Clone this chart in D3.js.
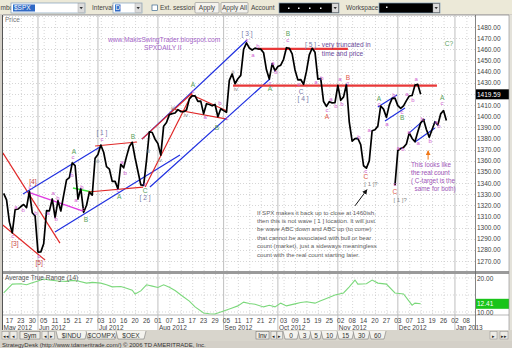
<!DOCTYPE html>
<html>
<head>
<meta charset="utf-8">
<script src="https://cdn.jsdelivr.net/npm/d3@7"></script>
<style>
  html, body { margin: 0; padding: 0; background: #d4d0c8; }
  svg text { font-family: "Liberation Sans", Arial, sans-serif; }
</style>
</head>
<body>
<svg id="chart" width="512" height="348"></svg>
<script>
// ---------------- data ----------------
const marketHolidays = ["2012-05-28", "2012-07-04", "2012-09-03", "2012-10-29", "2012-10-30",
  "2012-11-22", "2012-12-25", "2013-01-01"];
const calendarStart = "2012-05-15";
const calendarEnd = "2013-01-15";

// S&P 500 daily closes, one per trading day from 2012-05-15
const closes = [
  1330.66, 1324.80, 1304.86, 1295.22, 1315.99, 1316.63, 1318.86, 1320.68, 1317.82, 1332.42, 1313.32, 1310.33,
  1278.04, 1278.18, 1285.50, 1315.13, 1314.99, 1325.66, 1308.93, 1324.18, 1314.88, 1329.10, 1342.84, 1344.78,
  1357.98, 1355.69, 1325.51, 1335.02, 1313.72, 1319.99, 1331.85, 1329.04, 1362.16,
  1365.51, 1374.02, 1367.58, 1354.68, 1352.46, 1341.47, 1341.45, 1334.76, 1356.78, 1353.64, 1363.67, 1372.78,
  1376.51, 1362.66, 1350.52, 1338.31, 1337.89, 1360.02, 1385.97, 1385.30, 1379.32,
  1375.32, 1365.00, 1390.99, 1394.23, 1401.35, 1402.22, 1402.80, 1405.87, 1404.11, 1403.93, 1405.53, 1415.51,
  1418.16, 1418.13, 1413.17, 1413.49, 1402.08, 1411.13, 1410.44, 1409.30, 1410.49, 1399.48, 1406.58,
  1404.94, 1403.44, 1432.12, 1437.92, 1429.08, 1433.56, 1436.56, 1459.99, 1465.77, 1461.19, 1459.32, 1461.05,
  1460.26, 1460.15, 1456.89, 1441.59, 1433.32, 1447.15, 1440.67,
  1444.49, 1445.75, 1450.99, 1461.40, 1460.93, 1455.88, 1441.48, 1432.56, 1432.84, 1428.59, 1440.13, 1454.92,
  1460.91, 1457.34, 1433.19, 1433.82, 1413.11, 1408.75, 1412.97, 1411.94, 1412.16,
  1427.59, 1414.20, 1417.26, 1428.39, 1394.53, 1377.51, 1379.85, 1380.03, 1374.53, 1355.49, 1353.33, 1359.88,
  1386.89, 1387.81, 1391.03, 1409.15, 1406.29, 1398.94, 1409.93, 1415.95, 1416.18,
  1409.46, 1407.05, 1409.28, 1413.94, 1418.07, 1418.55, 1427.84, 1428.48, 1419.59
];
const lastPrice = 1419.59;

// hand-drawn alternative path, one value per trading day from 2012-11-30
const projectionStart = "2012-11-30";
const projection = [1338, 1369, 1371, 1372, 1375, 1385, 1380, 1377, 1386, 1394, 1397, 1388, 1381, 1388,
  1395, 1392, 1402, 1405, 1396];

// Average True Range (14)
const atrDates = ["2012-05-15", "2012-05-18", "2012-05-23", "2012-05-25", "2012-05-30", "2012-06-01", "2012-06-05",
  "2012-06-07", "2012-06-12", "2012-06-15", "2012-06-19", "2012-06-21", "2012-06-26", "2012-06-28", "2012-07-03",
  "2012-07-06", "2012-07-10", "2012-07-13", "2012-07-17", "2012-07-19", "2012-07-20", "2012-07-24", "2012-07-26",
  "2012-07-30", "2012-08-01", "2012-08-03", "2012-08-07", "2012-08-09", "2012-08-14", "2012-08-16", "2012-08-20",
  "2012-08-23", "2012-08-27", "2012-08-29", "2012-09-04", "2012-09-07", "2012-09-11", "2012-09-13", "2012-09-17",
  "2012-09-19", "2012-09-24", "2012-09-26", "2012-09-28", "2012-10-02", "2012-10-04", "2012-10-09", "2012-10-11",
  "2012-10-15", "2012-10-18", "2012-10-22", "2012-10-24", "2012-10-31", "2012-11-05", "2012-11-07", "2012-11-09",
  "2012-11-12", "2012-11-15", "2012-11-19", "2012-11-21", "2012-11-27", "2012-11-30", "2012-12-05", "2012-12-10",
  "2012-12-11", "2012-12-13"];
const atrValues = [15.6, 18.2, 18.3, 18.0, 18.6, 19.1, 19.7, 19.4, 19.1, 19.0, 19.3, 19.1, 18.5, 18.7, 18.5,
  18.0, 17.4, 17.5, 17.0, 16.4, 15.3, 16.2, 18.0, 17.6, 17.2, 18.0, 17.3, 16.3, 14.4, 13.2, 11.5,
  9.7, 9.5, 9.4, 10.3, 11.2, 11.8, 12.9, 12.5, 12.3, 11.5, 12.0, 11.5, 12.6, 11.8, 12.4, 12.8,
  13.0, 12.6, 13.3, 14.0, 15.0, 15.6, 17.4, 19.4, 18.2, 18.3, 19.4, 18.5, 18.2, 15.6, 15.3, 12.0,
  12.6, 12.41];
const atrLast = 12.41;

const priceTicks = d3.range(1270, 1481, 10);
const atrTicks = [10, 20];

// trend lines: [day, price, day, price, kind]
const trendLines = [
  [-0.3, 1367, 19.7, 1286, "red"],
  [-0.3, 1302.3, 14.5, 1270.8, "red"],
  [6.75, 1330.1, 33.7, 1372.3, "blue"],
  [17.95, 1296, 61.7, 1365.1, "blue"],
  [8.5, 1331.9, 27.8, 1314.8, "magenta"],
  [24.25, 1335.5, 30.9, 1331.9, "green"],
  [32.0, 1373.2, 46.7, 1376.8, "red"],
  [29.5, 1331.9, 48.8, 1336.3, "red"],
  [48.4, 1379.4, 85.2, 1468.3, "blue"],
  [48.4, 1379.4, 65.9, 1420.5, "red"],
  [49.5, 1336.4, 65.9, 1419.9, "red"],
  [65.9, 1419.0, 78.2, 1404.6, "red"],
  [58.9, 1406.4, 78.2, 1397.4, "red"],
  [51.2, 1336.4, 93.2, 1433.3, "blue"],
  [89.0, 1460.3, 120.5, 1460.3, "redWide"],
  [80.3, 1427.3, 151.7, 1427.3, "redWide"],
  [131.0, 1408.2, 137.7, 1419.0, "blue"],
  [133.5, 1395.6, 140.5, 1407.3, "blue"],
  [141.9, 1384.8, 147.5, 1397.3, "blue"],
  [144.0, 1376.8, 151.0, 1389.3, "blue"]
];

// wave labels: [text, day, price, kind]
const waveLabels = [
  ["[4]", 10.2, 1341, "red"], ["c", 9.2, 1336.5, "minor"], ["a", 4.3, 1318.5, "minor"], ["b", 6.8, 1315.5, "minor"],
  ["b", 11.3, 1313, "minor"], ["c", 3.2, 1292.5, "minor"], ["[3]", 3.9, 1286, "red"],
  ["c", 12.4, 1274.5, "minor"], ["[5]", 12.4, 1268.5, "red"],
  ["a", 17.3, 1331, "minor"], ["b", 19, 1326.5, "minor"], ["a", 15.6, 1313, "minor"], ["b", 18.4, 1307.5, "minor"],
  ["b", 27.4, 1336.5, "minor"], ["a", 25.3, 1324.5, "minor"], ["c", 27.8, 1316.5, "minor"], ["B", 28.8, 1307.5, "major"],
  ["A", 24.6, 1368, "major"], ["c", 24.3, 1363.5, "minor"], ["b", 23.9, 1347, "minor"],
  ["[ 1 ]", 34.4, 1385, "degree"], ["c", 34.4, 1379.5, "minor"], ["B", 45.3, 1382, "major"], ["iii", 32.7, 1360, "roman"],
  ["a", 41.4, 1359, "minor"], ["b", 42.5, 1349, "minor"], ["c", 40, 1334, "minor"], ["A", 40.4, 1327.5, "major"],
  ["c", 49.5, 1339, "minor"], ["C", 49.5, 1333.5, "major"], ["[ 2 ]", 49.5, 1327, "degree"],
  ["ii", 50.7, 1369, "roman"], ["iv", 54.7, 1360.6, "roman"], ["iii", 59.3, 1407.3, "roman"], ["iv", 63.8, 1401, "roman"],
  ["A", 66.3, 1428, "major"], ["c", 66.3, 1422.5, "minor"],
  ["a", 70.5, 1399.2, "minor"], ["b", 75.7, 1411.8, "minor"], ["B", 74.7, 1390.2, "major"], ["c", 78.2, 1398.3, "minor"],
  ["ii", 80.3, 1439.6, "roman"], ["iv", 81.3, 1424.3, "roman"],
  ["[ 3 ]", 85.2, 1474.5, "degree"], ["c", 85.2, 1468.5, "minor"], ["b", 89, 1463, "minor"], ["a", 87.3, 1455, "minor"],
  ["a", 94.3, 1447.5, "minor"], ["b", 95.3, 1439.5, "minor"], ["c", 93.2, 1429.5, "minor"], ["A", 93.2, 1424.5, "major"],
  ["B", 99.5, 1474.5, "major"], ["c", 99.5, 1468.5, "minor"],
  ["c", 103.4, 1429, "minor"], ["C", 104.1, 1422.5, "degree"], ["[ 4 ]", 104.8, 1415.5, "degree"],
  ["a", 109.3, 1430.5, "minor"], ["b", 111.4, 1434, "minor"],
  ["a", 114.6, 1415.5, "minor"], ["b", 116.3, 1409, "minor"], ["c", 113.2, 1405.5, "minor"], ["A", 113.2, 1400, "alt"],
  ["a", 117.7, 1433.5, "minor"], ["B", 120.5, 1435, "alt"], ["c", 120.5, 1429.5, "minor"], ["b", 118.4, 1411, "minor"],
  ["b", 124.4, 1381.5, "minor"], ["a", 128, 1387.5, "minor"], ["c", 126.8, 1350.5, "minor"], ["C", 126.8, 1345.5, "alt"],
  ["[ 1 ]?", 128.6, 1339, "roman"],
  ["A", 131.4, 1415.5, "major"], ["c", 131.4, 1411, "minor"], ["b", 136.6, 1419, "minor"], ["a", 134.2, 1393, "minor"],
  ["c", 139.5, 1403.5, "minor"], ["B", 139.5, 1398.5, "major"], ["a", 141.2, 1420, "minor"], ["b", 143.3, 1414.5, "minor"],
  ["a", 144.4, 1433.5, "minor"],
  ["c", 137, 1339, "minor"], ["C", 137, 1332.5, "alt"], ["[ 1 ]?", 138.8, 1325, "roman"],
  ["a", 138.1, 1371.5, "minor"], ["b", 139.8, 1370.5, "minor"], ["a", 141.9, 1385.5, "minor"], ["a", 145.1, 1376, "minor"],
  ["b", 146.5, 1397.5, "minor"], ["b", 149.3, 1377.5, "minor"], ["a", 151.4, 1394.5, "minor"], ["b", 152.4, 1391, "minor"],
  ["A", 153.5, 1417, "major"], ["c", 153.5, 1412, "minor"],
  ["C?", 155.9, 1465.5, "major"]
];

const blogLines = ["www.MakisSwingTrader.blogspot.com", "SPXDAILY II"];
const truncNote = ["- very truncated in", "time and price"];
const sidewaysNote = [
  "If SPX makes it back up to close at 1460ish,",
  "then this is not wave [ 1 ] location. It will just",
  "be wave ABC down and ABC up (to come)",
  "that cannot be associated with bull or bear",
  "count (market), just a sideways meaningless",
  "count with the real count starting later."
];
const realCountNote = ["This looks like", "the real count", "( C-target is the", "  same for both)"];

// ---------------- layout ----------------
const svg = d3.select("#chart");
const iso = d3.utcFormat("%Y-%m-%d");
const tradingDays = d3.utcDays(new Date(calendarStart), new Date(calendarEnd))
  .filter(d => d.getUTCDay() !== 0 && d.getUTCDay() !== 6 && !marketHolidays.includes(iso(d)));
const dayIndex = new Map(tradingDays.map((d, i) => [iso(d), i]));

const plotL = 3, plotR = 475, axisR = 509;
const priceTop = 15, priceBottom = 271;
const atrTop = 274, atrBottom = 315;
const dateBottom = 330;

const x = d3.scaleLinear().domain([0, 165.3]).range([3.7, 475.8]);
const y = d3.scaleLinear().domain([1270, 1480]).range([261, 27]);
const yA = d3.scaleLinear().domain([10, 20]).range([312, 278]);

const FONT = 6.5;
const colors = {
  grid: "#c4c4c4", month: "#b8b8b8", text: "#333",
  red: "#e02828", blue: "#1f2fe0", magenta: "#e03ae0", green: "#3ee83e",
  minor: "#d060d0", major: "#5a9f5a", alt: "#e05a4a", degree: "#7878a8", roman: "#888888"
};

// window chrome
svg.append("rect").attr("width", 512).attr("height", 348).attr("fill", "#d4d0c8");

// toolbar
const tb = svg.append("g");
tb.append("rect").attr("width", 512).attr("height", 14).attr("fill", "#ece9d8");
function tbText(t, xx, anchor) {
  tb.append("text").attr("x", xx).attr("y", 10.3).attr("font-size", FONT).attr("fill", "#444")
    .attr("text-anchor", anchor || "start").text(t);
}
function combo(x0, w, dark) {
  tb.append("rect").attr("x", x0).attr("y", 3).attr("width", w).attr("height", 10)
    .attr("fill", dark ? "#000" : "#fff").attr("stroke", "#7f9db9").attr("stroke-width", 0.7);
  tb.append("rect").attr("x", x0 + w - 7).attr("y", 3.6).attr("width", 6.4).attr("height", 8.8)
    .attr("fill", "#dcdcdc").attr("stroke", "#999").attr("stroke-width", 0.4);
  tb.append("path").attr("d", `M${x0 + w - 5.5},7 l3.4,0 l-1.7,2.2z`).attr("fill", "#333");
}
tbText("mbol", 0.5);
combo(11, 74, false);
tb.append("rect").attr("x", 13).attr("y", 4.5).attr("width", 22).attr("height", 7).attr("fill", "#316ac5");
tb.append("text").attr("x", 14).attr("y", 10.3).attr("font-size", FONT).attr("fill", "#fff").text("$SPX");
tbText("Interval", 92);
combo(113, 29, false);
tb.append("rect").attr("x", 115).attr("y", 4.5).attr("width", 5.5).attr("height", 7).attr("fill", "#316ac5");
tb.append("text").attr("x", 115.6).attr("y", 10.3).attr("font-size", FONT).attr("fill", "#fff").text("D");
tb.append("rect").attr("x", 152).attr("y", 5).attr("width", 5.5).attr("height", 5.5)
  .attr("fill", "#fff").attr("stroke", "#1c5180").attr("stroke-width", 0.6);
tbText("Ext. session", 160);
[["Apply", 195, 24], ["Apply All", 221, 27]].forEach(([t, bx, bw]) => {
  tb.append("rect").attr("x", bx).attr("y", 2.5).attr("width", bw).attr("height", 10.5).attr("rx", 1)
    .attr("fill", "#f4f3ee").attr("stroke", "#8a8a8a").attr("stroke-width", 0.6);
  tb.append("text").attr("x", bx + bw / 2).attr("y", 10.3).attr("font-size", FONT).attr("fill", "#444")
    .attr("text-anchor", "middle").text(t);
});
tbText("Account", 251);
combo(279, 60, true);
[288, 298, 309, 320].forEach(d => tb.append("rect").attr("x", d).attr("y", 7.5).attr("width", 1.5).attr("height", 1.5).attr("fill", "#fff"));
tbText("Workspace:", 346);
combo(379, 61, true);
tb.append("rect").attr("x", 386).attr("y", 6.5).attr("width", 1.5).attr("height", 1.5).attr("fill", "#fff");

// panel backgrounds
svg.append("rect").attr("x", plotL).attr("y", priceTop).attr("width", axisR - plotL).attr("height", priceBottom - priceTop).attr("fill", "#fff");
svg.append("rect").attr("x", plotL).attr("y", atrTop).attr("width", axisR - plotL).attr("height", dateBottom - atrTop).attr("fill", "#fff");
svg.append("line").attr("x1", 2.5).attr("x2", 2.5).attr("y1", priceTop).attr("y2", dateBottom).attr("stroke", "#555").attr("stroke-width", 1);
svg.append("line").attr("x1", plotL).attr("x2", axisR).attr("y1", priceTop).attr("y2", priceTop).attr("stroke", "#888").attr("stroke-width", 0.8);
svg.append("rect").attr("x", plotL).attr("y", priceBottom).attr("width", axisR - plotL).attr("height", atrTop - priceBottom).attr("fill", "#9a9a9a");
svg.append("line").attr("x1", plotL).attr("x2", axisR).attr("y1", atrBottom).attr("y2", atrBottom).attr("stroke", "#888").attr("stroke-width", 0.6);

// clip regions
const defs = svg.append("defs");
defs.append("clipPath").attr("id", "clipPrice").append("rect")
  .attr("x", plotL).attr("y", priceTop).attr("width", plotR - plotL).attr("height", priceBottom - priceTop);
defs.append("clipPath").attr("id", "clipAtr").append("rect")
  .attr("x", plotL).attr("y", atrTop).attr("width", plotR - plotL).attr("height", atrBottom - atrTop);
const arrowMarker = (id, color) => defs.append("marker").attr("id", id).attr("viewBox", "0 0 10 10")
  .attr("refX", 9).attr("refY", 5).attr("markerWidth", 5).attr("markerHeight", 5).attr("orient", "auto")
  .append("path").attr("d", "M0,0 L10,5 L0,10 z").attr("fill", color);
arrowMarker("arrBlack", "#111");
arrowMarker("arrOrange", "#f07818");

// vertical grid: every fourth trading day, solid at month starts
const tickIdx = d3.range(2, tradingDays.length, 4).filter(i => x(i) < plotR);
const monthIdx = tradingDays.map((d, i) => i).filter(i => i > 0 && tradingDays[i].getUTCMonth() !== tradingDays[i - 1].getUTCMonth());
function vGrid(g, y0, y1) {
  g.selectAll(".vt").data(tickIdx.filter(i => !monthIdx.includes(i))).join("line")
    .attr("x1", d => x(d) + 0.5).attr("x2", d => x(d) + 0.5).attr("y1", y0).attr("y2", y1)
    .attr("stroke", colors.grid).attr("stroke-width", 0.7).attr("stroke-dasharray", "1,2");
  g.selectAll(".vm").data(monthIdx).join("line")
    .attr("x1", d => x(d)).attr("x2", d => x(d)).attr("y1", y0).attr("y2", y1)
    .attr("stroke", colors.month).attr("stroke-width", 0.9);
}

// ---------------- price panel ----------------
const pg = svg.append("g").attr("clip-path", "url(#clipPrice)");
vGrid(pg.append("g"), priceTop, priceBottom);
pg.selectAll(".hg").data(d3.range(1270, 1491, 10)).join("line")
  .attr("x1", plotL).attr("x2", plotR).attr("y1", d => Math.round(y(d)) + 0.5).attr("y2", d => Math.round(y(d)) + 0.5)
  .attr("stroke", colors.grid).attr("stroke-width", 0.7).attr("stroke-dasharray", "1,2");

svg.append("text").attr("x", 5).attr("y", 21.5).attr("font-size", FONT).attr("fill", "#777").text("Price");

// trend lines
const lineStyle = {
  red: [colors.red, 1.2], redWide: ["#e83838", 2.2], blue: [colors.blue, 1.2],
  magenta: [colors.magenta, 1.3], green: [colors.green, 1.4]
};
pg.selectAll(".trend").data(trendLines).join("line")
  .attr("x1", d => x(d[0])).attr("y1", d => y(d[1])).attr("x2", d => x(d[2])).attr("y2", d => y(d[3]))
  .attr("stroke", d => lineStyle[d[4]][0]).attr("stroke-width", d => lineStyle[d[4]][1]);

// price and alternative path
const pricePath = d3.line().x((d, i) => x(i)).y(d => y(d));
pg.append("path").attr("d", pricePath(closes)).attr("fill", "none")
  .attr("stroke", "#000").attr("stroke-width", 1.7).attr("stroke-linejoin", "round");
const p0 = dayIndex.get(projectionStart);
pg.append("path").attr("d", d3.line().x((d, i) => x(p0 + i)).y(d => y(d))(projection)).attr("fill", "none")
  .attr("stroke", "#000").attr("stroke-width", 1.7).attr("stroke-linejoin", "round");

// wave labels
pg.selectAll(".wave").data(waveLabels).join("text")
  .attr("x", d => x(d[1])).attr("y", d => y(d[2]))
  .attr("text-anchor", "middle").attr("dominant-baseline", "central")
  .attr("font-size", d => d[3] === "minor" || d[3] === "roman" ? 6 : 6.6)
  .attr("fill", d => d[3] === "red" ? "#c84848" : colors[d[3]])
  .text(d => d[0]);

// notes
const note = (lines, day, price, color, size, step) => {
  const t = pg.append("text").attr("font-size", size).attr("fill", color).attr("xml:space", "preserve");
  lines.forEach((s, k) => t.append("tspan").attr("x", x(day)).attr("y", y(price) + k * step)
    .attr("dominant-baseline", "central").text(s));
  return t;
};
note([blogLines[0]], 36.5, 1469.2, "#a566c8", 6.7, 0);
note([blogLines[1]], 49.1, 1462, "#a566c8", 6.7, 0);
const tn = pg.append("text").attr("font-size", 6.6).attr("xml:space", "preserve");
tn.append("tspan").attr("x", x(105.5)).attr("y", y(1464.7)).attr("dominant-baseline", "central")
  .attr("fill", colors.degree).text("[ 5 ] ");
tn.append("tspan").attr("fill", "#6a4a9a").attr("dominant-baseline", "central").text(truncNote[0]);
tn.append("tspan").attr("x", x(111.4)).attr("y", y(1456.6)).attr("dominant-baseline", "central")
  .attr("fill", "#6a4a9a").text(truncNote[1]);
note(sidewaysNote, 88.7, 1313.9, "#606060", 6.1, 8.45);
note(realCountNote, 142.6, 1357, "#a055b8", 6.4, 8.3);

// arrows
pg.append("line").attr("x1", x(123.0)).attr("y1", y(1319.5)).attr("x2", x(127.2)).attr("y2", y(1334))
  .attr("stroke", "#111").attr("stroke-width", 1).attr("marker-end", "url(#arrBlack)");
pg.append("line").attr("x1", x(148.6)).attr("y1", y(1361)).attr("x2", x(148.6)).attr("y2", y(1369))
  .attr("stroke", "#f07818").attr("stroke-width", 1).attr("marker-end", "url(#arrOrange)");

// right price axis
svg.append("line").attr("x1", plotR + 0.5).attr("x2", plotR + 0.5).attr("y1", priceTop).attr("y2", dateBottom)
  .attr("stroke", "#666").attr("stroke-width", 0.8);
svg.append("g").selectAll("text").data(priceTicks).join("text")
  .attr("x", 477).attr("y", d => y(d)).attr("dominant-baseline", "central")
  .attr("font-size", FONT).attr("fill", "#444").text(d3.format(".2f"));
svg.append("rect").attr("x", plotR + 1).attr("y", y(lastPrice) - 5).attr("width", axisR - plotR - 1).attr("height", 10).attr("fill", "#000");
svg.append("text").attr("x", 477).attr("y", y(lastPrice)).attr("dominant-baseline", "central")
  .attr("font-size", FONT).attr("fill", "#fff").text(d3.format(".2f")(lastPrice));

// ---------------- ATR panel ----------------
const ag = svg.append("g").attr("clip-path", "url(#clipAtr)");
vGrid(ag.append("g"), atrTop, atrBottom);
ag.selectAll(".ha").data([10, 15, 20]).join("line")
  .attr("x1", plotL).attr("x2", plotR).attr("y1", d => yA(d)).attr("y2", d => yA(d))
  .attr("stroke", colors.grid).attr("stroke-width", 0.7).attr("stroke-dasharray", "1,2");
ag.append("path")
  .attr("d", d3.line().x((d, i) => x(dayIndex.get(atrDates[i]))).y(d => yA(d))(atrValues))
  .attr("fill", "none").attr("stroke", "#7bd87b").attr("stroke-width", 1.1);
svg.append("text").attr("x", 5).attr("y", 280).attr("font-size", FONT).attr("fill", "#555").text("Average True Range (14)");
svg.selectAll(".atrTick").data(atrTicks).join("text")
  .attr("x", 477).attr("y", d => yA(d)).attr("dominant-baseline", "central")
  .attr("font-size", FONT).attr("fill", "#444").text(d3.format(".2f"));
svg.append("rect").attr("x", plotR + 1).attr("y", yA(atrLast) - 5).attr("width", axisR - plotR - 1).attr("height", 10).attr("fill", "#19c419");
svg.append("text").attr("x", 477).attr("y", yA(atrLast)).attr("dominant-baseline", "central")
  .attr("font-size", FONT).attr("fill", "#fff").text(d3.format(".2f")(atrLast));

// ---------------- date axis ----------------
const dg = svg.append("g");
dg.selectAll(".mt").data(monthIdx.filter(i => x(i) < plotR)).join("line")
  .attr("x1", d => x(d)).attr("x2", d => x(d)).attr("y1", atrBottom).attr("y2", dateBottom)
  .attr("stroke", colors.month).attr("stroke-width", 0.9);
dg.selectAll(".dt").data(tickIdx).join("text")
  .attr("x", d => x(d)).attr("y", 320).attr("text-anchor", "middle").attr("dominant-baseline", "central")
  .attr("font-size", FONT).attr("fill", "#444").text(d => d3.utcFormat("%d")(tradingDays[d]));
const monthLabelIdx = [0].concat(monthIdx.filter(i => x(i) < plotR));
dg.selectAll(".ml").data(monthLabelIdx).join("text")
  .attr("x", d => d === 0 ? plotL + 0.5 : x(d) + 1).attr("y", 327).attr("dominant-baseline", "central")
  .attr("font-size", FONT).attr("fill", "#444").text(d => d3.utcFormat("%b %Y")(tradingDays[d]));

// right scrollbar strip
svg.append("rect").attr("x", axisR).attr("y", priceTop).attr("width", 512 - axisR).attr("height", dateBottom - priceTop).attr("fill", "#e4e2da");
svg.append("line").attr("x1", axisR).attr("x2", axisR).attr("y1", priceTop).attr("y2", dateBottom).attr("stroke", "#888").attr("stroke-width", 0.6);

// ---------------- tab strip and footer ----------------
const tg = svg.append("g");
tg.append("rect").attr("x", 0).attr("y", dateBottom).attr("width", 512).attr("height", 11).attr("fill", "#d8d5cc");
function smallBtn(bx, bw, glyph) {
  tg.append("rect").attr("x", bx).attr("y", 331.5).attr("width", bw).attr("height", 7.5)
    .attr("fill", "#eeece6").attr("stroke", "#8a8a8a").attr("stroke-width", 0.5);
  tg.append("text").attr("x", bx + bw / 2).attr("y", 335.5).attr("text-anchor", "middle").attr("dominant-baseline", "central")
    .attr("font-size", 5).attr("fill", "#222").text(glyph);
}
smallBtn(2, 7, "◂◂"); smallBtn(10, 7, "◂");
tg.append("rect").attr("x", 20).attr("y", 331.5).attr("width", 20).attr("height", 7.5).attr("fill", "#eeece6").attr("stroke", "#666").attr("stroke-width", 0.5);
tg.append("text").attr("x", 30).attr("y", 335.5).attr("text-anchor", "middle").attr("dominant-baseline", "central").attr("font-size", FONT).attr("fill", "#222").text("Sym");
smallBtn(42, 6, "◂"); smallBtn(48.5, 6, "▸");
function tabs(items) {
  items.forEach(([t, tx, tw]) => {
    tg.append("path").attr("d", `M${tx},331 l2,8 l${tw - 4},0 l2,-8`).attr("fill", "#f4f3ee").attr("stroke", "#666").attr("stroke-width", 0.5);
    tg.append("text").attr("x", tx + tw / 2).attr("y", 335.3).attr("text-anchor", "middle").attr("dominant-baseline", "central")
      .attr("font-size", FONT).attr("fill", "#333").text(t);
  });
}
tabs([["$INDU", 56, 31], ["$COMPX", 86, 31], ["$OEX", 116, 30]]);
tg.append("rect").attr("x", 256).attr("y", 331.5).attr("width", 13).attr("height", 7.5).attr("fill", "#eeece6").attr("stroke", "#666").attr("stroke-width", 0.5);
tg.append("text").attr("x", 262.5).attr("y", 335.5).attr("text-anchor", "middle").attr("dominant-baseline", "central").attr("font-size", FONT).attr("fill", "#222").text("Inv");
smallBtn(271, 5.5, "◂"); smallBtn(277, 5.5, "▸");
tabs([["0", 283, 16], ["3", 298, 13], ["5", 310, 12], ["10", 321, 17], ["15", 337, 17], ["30", 353, 17], ["60", 369, 17]]);
smallBtn(490, 7, "▸"); smallBtn(500, 8, "▸▸");
svg.append("text").attr("x", 2).attr("y", 344.5).attr("dominant-baseline", "central").attr("font-size", 6)
  .attr("fill", "#333").text("StrategyDesk (http://www.tdameritrade.com/) © 2006 TD AMERITRADE, Inc.");
</script>
</body>
</html>
